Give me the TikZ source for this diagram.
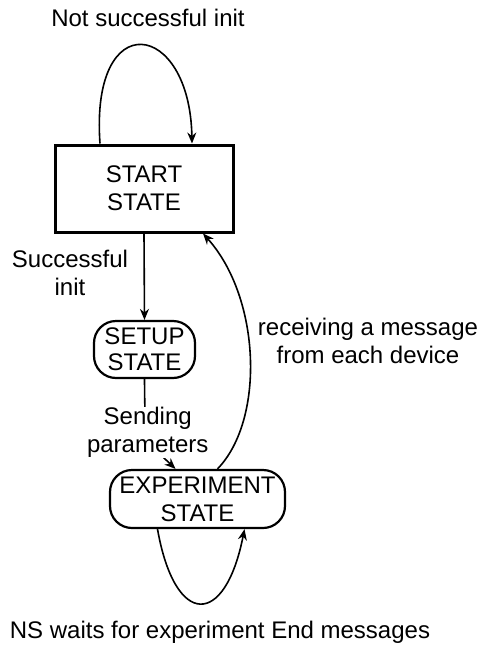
\documentclass[tikz,border=0pt]{standalone}
\usepackage{fontspec}
\setmainfont{Liberation Sans}
\usetikzlibrary{arrows.meta}
\begin{document}
\begin{tikzpicture}[x=1pt,y=-1pt,
  every node/.style={font=\fontsize{24}{28}\selectfont, align=center, inner sep=0pt},
  boxstate/.style={draw, line width=3pt, minimum width=178pt, minimum height=87pt},
  roundstate/.style={draw, line width=2.2pt, rounded corners=22pt},
  conn/.style={line width=1.6pt, -{Stealth[length=11pt,width=9pt]}},
  lbl/.style={fill=white}]
\useasboundingbox (0,0) rectangle (480,648);
\node[boxstate] (start) at (144,188.5) {START\\STATE};
\node[roundstate, minimum width=101pt, minimum height=57pt, font=\fontsize{24}{26}\selectfont] (setup) at (144.5,349.5) {SETUP\\STATE};
\node[roundstate, minimum width=175pt, minimum height=58pt] (exp) at (197.5,499) {EXPERIMENT\\STATE};
\node (tnot) at (148,18) {Not successful init};
\node (tsucc) at (70,273) {Successful\\init};
\node (trecv) at (368,341) {receiving a message\\from each device};
\node (tns) at (220,632) {NS waits for experiment End messages};
% self loop on start
\draw[conn] ([xshift=-44pt]start.north) .. controls (90,5) and (190,20) .. ([xshift=48pt]start.north);
% start -> setup
\draw[conn] (start.south) -- (setup.north);
% setup -> experiment
\draw[conn] (setup.south) .. controls (145,440) .. ([xshift=-22pt]exp.north)
  node[lbl, pos=0.45] (tsend) {Sending\\parameters};
% experiment -> start
\draw[conn] ([xshift=20pt]exp.north) .. controls (265,420) and (261,298) .. ([xshift=59pt]start.south);
% experiment self loop
\draw[conn] ([xshift=-40pt]exp.south) .. controls (175,628) and (225,628) .. ([xshift=47pt]exp.south);
\end{tikzpicture}
\end{document}
